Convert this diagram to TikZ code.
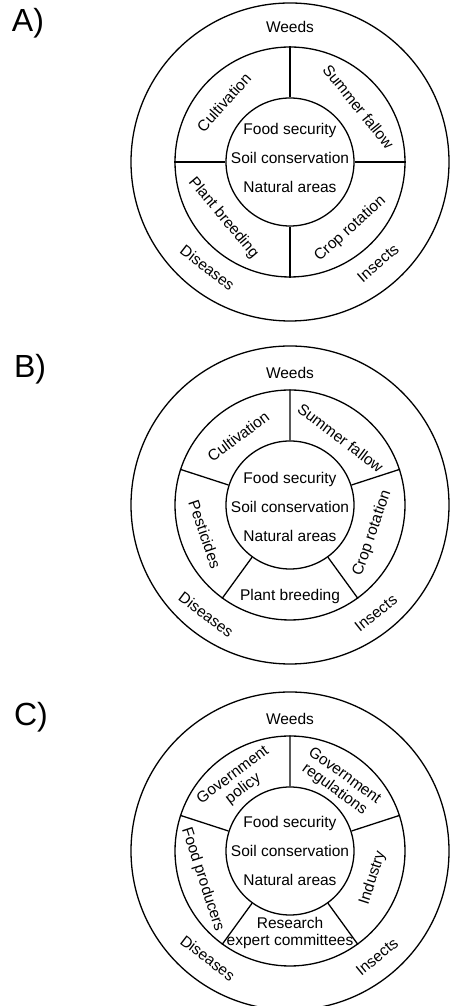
\documentclass[tikz,border=0pt]{standalone}
\usepackage{fontspec}
\setmainfont{Liberation Sans}

\begin{document}
\begin{tikzpicture}[x=1pt,y=1pt,
  ring/.style={circle, draw, line width=1.3pt, inner sep=0pt},
  spoke/.style={line width=1.3pt},
  lbl/.style={font=\fontsize{15.5}{17}\selectfont, inner sep=0pt, align=center},
  core/.style={font=\fontsize{15.5}{29}\selectfont, inner sep=0pt, align=center},
  panel/.style={font=\fontsize{32}{36}\selectfont, inner sep=0pt}]

\useasboundingbox (0,0) rectangle (450,1006);

% A)
\coordinate (ca) at (290,844);
\node [panel] (pa) at (28,983) {A)};
\node [ring, minimum size=318pt] (aOut) at (ca) {};
\node [ring, minimum size=230pt] (aMid) at (ca) {};
\node [ring, minimum size=128pt] (aIn) at (ca) {};
\draw [spoke] (aIn.90) -- (aMid.90) (aIn.0) -- (aMid.0) (aIn.180) -- (aMid.180) (aIn.270) -- (aMid.270);
\path (ca) +(0,4) node [core] (aCore) {Food security\\Soil conservation\\Natural areas};
\path (ca) +(138:89) node [lbl, rotate=48] (aCult) {Cultivation};
\path (ca) +(39:88) node [lbl, rotate=-51] (aFall) {Summer fallow};
\path (ca) +(220:87) node [lbl, rotate=-50] (aBreed) {Plant breeding};
\path (ca) +(-48:90) node [lbl, rotate=42] (aCrop) {Crop rotation};
\path (ca) +(90:135) node [lbl] (aWeed) {Weeds};
\path (ca) +(232:134) node [lbl, rotate=-38] (aDis) {Diseases};
\path (ca) +(-49:134) node [lbl, rotate=41] (aIns) {Insects};

% B)
\coordinate (cb) at (290,501);
\node [panel] (pb) at (30,637) {B)};
\node [ring, minimum size=318pt] (bOut) at (cb) {};
\node [ring, minimum size=230pt] (bMid) at (cb) {};
\node [ring, minimum size=128pt] (bIn) at (cb) {};
\draw [spoke] (bIn.90) -- (bMid.90) (bIn.18) -- (bMid.18) (bIn.-54) -- (bMid.-54) (bIn.-126) -- (bMid.-126) (bIn.162) -- (bMid.162);
\path (cb) +(0,-2) node [core] (bCore) {Food security\\Soil conservation\\Natural areas};
\path (cb) +(127:86) node [lbl, rotate=37] (bCult) {Cultivation};
\path (cb) +(53:84) node [lbl, rotate=-37] (bFall) {Summer fallow};
\path (cb) +(-19:87) node [lbl, rotate=71] (bCrop) {Crop rotation};
\path (cb) +(270:91) node [lbl] (bBreed) {Plant breeding};
\path (cb) +(199:90) node [lbl, rotate=-71] (bPest) {Pesticides};
\path (cb) +(90:132) node [lbl] (bWeed) {Weeds};
\path (cb) +(232.6:138) node [lbl, rotate=-37] (bDis) {Diseases};
\path (cb) +(-51.5:138) node [lbl, rotate=38.5] (bIns) {Insects};

% C)
\coordinate (cc) at (290,155);
\node [panel] (pc) at (31,289) {C)};
\node [ring, minimum size=318pt] (cOut) at (cc) {};
\node [ring, minimum size=230pt] (cMid) at (cc) {};
\node [ring, minimum size=128pt] (cIn) at (cc) {};
\draw [spoke] (cIn.90) -- (cMid.90) (cIn.18) -- (cMid.18) (cIn.-54) -- (cMid.-54) (cIn.-126) -- (cMid.-126) (cIn.162) -- (cMid.162);
\path (cc) node [core] (cCore) {Food security\\Soil conservation\\Natural areas};
\path (cc) +(127:86) node [lbl, rotate=37] (cPol) {Government\\policy};
\path (cc) +(54:84) node [lbl, rotate=-36] (cReg) {Government\\regulations};
\path (cc) +(-18:87) node [lbl, rotate=72] (cInd) {Industry};
\path (cc) +(270:82) node [lbl] (cRes) {Research\\expert committees};
\path (cc) +(198:92) node [lbl, rotate=-72] (cProd) {Food producers};
\path (cc) +(90:132) node [lbl] (cWeed) {Weeds};
\path (cc) +(232.5:135) node [lbl, rotate=-37.5] (cDis) {Diseases};
\path (cc) +(-50.6:137) node [lbl, rotate=39.4] (cIns) {Insects};

\end{tikzpicture}
\end{document}
